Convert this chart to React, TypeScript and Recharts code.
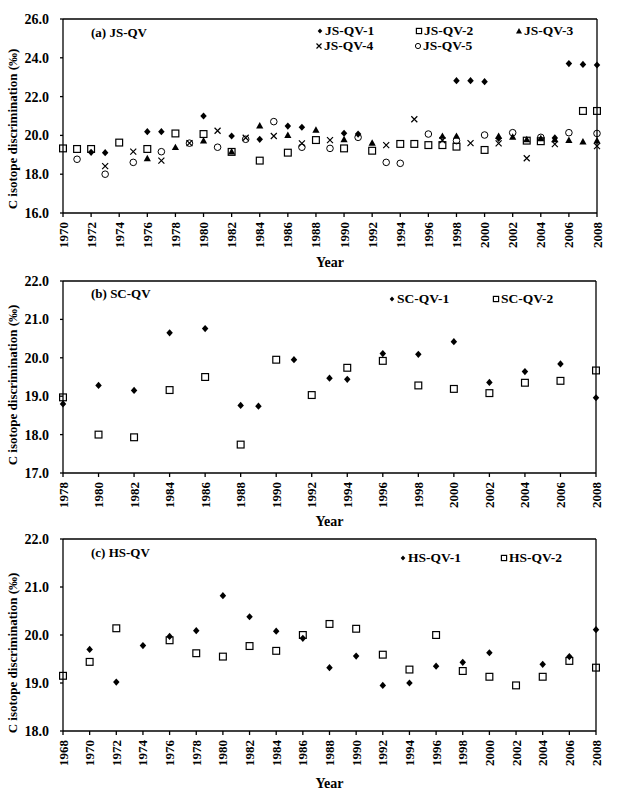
import { ScatterChart, Scatter, XAxis, YAxis, ReferenceLine } from "recharts";

const FONT = '"Liberation Serif", "Times New Roman", serif';

// (a) JS-QV
const js1Years = [1972, 1973, 1976, 1977, 1980, 1982, 1984, 1986, 1987, 1990, 1991, 1998, 1999, 2000, 2001, 2005, 2006, 2007, 2008];
const js1Values = [19.13, 19.11, 20.19, 20.19, 21.0, 19.97, 19.8, 20.48, 20.42, 20.11, 20.07, 22.82, 22.82, 22.77, 19.85, 19.87, 23.7, 23.66, 23.63];
const js2Years = [1970, 1971, 1972, 1974, 1976, 1978, 1980, 1982, 1984, 1986, 1988, 1990, 1992, 1994, 1995, 1996, 1997, 1998, 2000, 2003, 2004, 2007, 2008];
const js2Values = [19.33, 19.3, 19.3, 19.63, 19.3, 20.1, 20.07, 19.15, 18.7, 19.11, 19.76, 19.33, 19.21, 19.56, 19.56, 19.5, 19.5, 19.42, 19.25, 19.73, 19.7, 21.26, 21.26];
const js3Years = [1976, 1978, 1980, 1982, 1984, 1986, 1988, 1990, 1992, 1997, 1998, 2001, 2002, 2003, 2004, 2005, 2006, 2007, 2008];
const js3Values = [18.82, 19.39, 19.73, 19.16, 20.5, 20.02, 20.29, 19.8, 19.62, 19.97, 19.97, 19.97, 19.93, 19.8, 19.85, 19.8, 19.76, 19.68, 19.73];
const js4Years = [1973, 1975, 1977, 1979, 1981, 1983, 1985, 1987, 1989, 1993, 1995, 1997, 1999, 2001, 2003, 2005, 2008];
const js4Values = [18.42, 19.16, 18.7, 19.6, 20.24, 19.88, 19.97, 19.59, 19.76, 19.5, 20.83, 19.75, 19.6, 19.59, 18.82, 19.55, 19.45];
const js5Years = [1971, 1973, 1975, 1977, 1979, 1981, 1983, 1985, 1987, 1989, 1991, 1993, 1994, 1996, 1998, 2000, 2002, 2004, 2006, 2008];
const js5Values = [18.77, 18.0, 18.61, 19.16, 19.6, 19.39, 19.8, 20.71, 19.39, 19.33, 19.9, 18.61, 18.56, 20.07, 19.73, 20.02, 20.14, 19.9, 20.14, 20.1];

// (b) SC-QV
const sc1Years = [1978, 1980, 1982, 1984, 1986, 1988, 1989, 1991, 1993, 1994, 1996, 1998, 2000, 2002, 2004, 2006, 2008];
const sc1Values = [18.8, 19.28, 19.15, 20.65, 20.76, 18.76, 18.74, 19.95, 19.47, 19.44, 20.11, 20.09, 20.42, 19.36, 19.64, 19.84, 18.96];
const sc2Years = [1978, 1980, 1982, 1984, 1986, 1988, 1990, 1992, 1994, 1996, 1998, 2000, 2002, 2004, 2006, 2008];
const sc2Values = [18.97, 18.0, 17.93, 19.16, 19.5, 17.74, 19.95, 19.03, 19.74, 19.92, 19.28, 19.19, 19.08, 19.35, 19.4, 19.67];

// (c) HS-QV
const hs1Years = [1970, 1972, 1974, 1976, 1978, 1980, 1982, 1984, 1986, 1988, 1990, 1992, 1994, 1996, 1998, 2000, 2004, 2006, 2008];
const hs1Values = [19.7, 19.02, 19.78, 19.97, 20.09, 20.82, 20.38, 20.08, 19.93, 19.32, 19.56, 18.95, 19.0, 19.35, 19.43, 19.63, 19.39, 19.55, 20.11];
const hs2Years = [1968, 1970, 1972, 1976, 1978, 1980, 1982, 1984, 1986, 1988, 1990, 1992, 1994, 1996, 1998, 2000, 2002, 2004, 2006, 2008];
const hs2Values = [19.15, 19.44, 20.14, 19.89, 19.62, 19.55, 19.77, 19.67, 20.0, 20.23, 20.13, 19.59, 19.28, 20.0, 19.25, 19.13, 18.95, 19.13, 19.46, 19.32];

// tick labels
const jsYearTicks = [1970, 1972, 1974, 1976, 1978, 1980, 1982, 1984, 1986, 1988, 1990, 1992, 1994, 1996, 1998, 2000, 2002, 2004, 2006, 2008];
const scYearTicks = [1978, 1980, 1982, 1984, 1986, 1988, 1990, 1992, 1994, 1996, 1998, 2000, 2002, 2004, 2006, 2008];
const hsYearTicks = [1968, 1970, 1972, 1974, 1976, 1978, 1980, 1982, 1984, 1986, 1988, 1990, 1992, 1994, 1996, 1998, 2000, 2002, 2004, 2006, 2008];
const jsValueTicks = [16, 18, 20, 22, 24, 26];
const scValueTicks = [17, 18, 19, 20, 21, 22];
const hsValueTicks = [18, 19, 20, 21, 22];

type Kind = "diamond" | "square" | "triangle" | "cross" | "circle";

interface Pt {
  year: number;
  value: number;
}

const zip = (years: number[], values: number[]): Pt[] =>
  years.map((year, i) => ({ year, value: values[i] }));

function Marker({ kind, cx, cy, s }: { kind: Kind; cx: number; cy: number; s: number }) {
  switch (kind) {
    case "diamond":
      return (
        <path
          d={`M${cx},${cy - s} L${cx + s * 0.9},${cy} L${cx},${cy + s} L${cx - s * 0.9},${cy} Z`}
          fill="#000"
        />
      );
    case "square":
      return (
        <rect x={cx - s} y={cy - s} width={2 * s} height={2 * s} fill="none" stroke="#000" strokeWidth={1.2} />
      );
    case "triangle":
      return (
        <path d={`M${cx},${cy - s} L${cx + s},${cy + s * 0.8} L${cx - s},${cy + s * 0.8} Z`} fill="#000" />
      );
    case "cross":
      return (
        <path
          d={`M${cx - s},${cy - s} L${cx + s},${cy + s} M${cx + s},${cy - s} L${cx - s},${cy + s}`}
          stroke="#000"
          strokeWidth={1.2}
          fill="none"
        />
      );
    default:
      return <circle cx={cx} cy={cy} r={s} fill="none" stroke="#000" strokeWidth={1} />;
  }
}

const markSize: Record<Kind, number> = { diamond: 3.6, square: 3.4, triangle: 3.6, cross: 3, circle: 3.3 };
const legendSize: Record<Kind, number> = { diamond: 2.6, square: 2.6, triangle: 3, cross: 2.5, circle: 2.6 };

function YearTick(props: any) {
  const { x, y, payload } = props;
  return (
    <text
      x={x}
      y={y}
      transform={`rotate(-90, ${x}, ${y})`}
      textAnchor="end"
      dy="0.35em"
      fontFamily={FONT}
      fontWeight="bold"
      fontSize={13}
      fill="#000"
    >
      {payload.value}
    </text>
  );
}

interface SeriesDef {
  name: string;
  kind: Kind;
  data: Pt[];
  lx: number;
  ly: number;
}

interface PanelProps {
  top: number;
  height: number;
  bottom: number;
  right: number;
  title: string;
  titleY: number;
  xDomain: [number, number];
  xTicks: number[];
  yDomain: [number, number];
  yTicks: number[];
  series: SeriesDef[];
  yLabelDy: number;
  yearOffset: number;
}

function Panel(p: PanelProps) {
  return (
    <div style={{ position: "absolute", left: 0, top: p.top, width: 626, height: p.height }}>
      <ScatterChart width={626} height={p.height} margin={{ top: 19, right: p.right, bottom: p.bottom, left: 0 }}>
        <XAxis
          type="number"
          dataKey="year"
          domain={p.xDomain}
          ticks={p.xTicks}
          interval={0}
          height={40}
          tickSize={4}
          tickMargin={5}
          tick={<YearTick />}
          stroke="#000"
          strokeWidth={1.3}
          label={{
            value: "Year",
            position: "bottom",
            offset: p.yearOffset,
            style: { fontFamily: FONT, fontWeight: "bold", fontSize: 14, fill: "#000" },
          }}
        />
        <YAxis
          type="number"
          dataKey="value"
          domain={p.yDomain}
          ticks={p.yTicks}
          interval={0}
          width={63}
          tickSize={3}
          tickMargin={11}
          tickFormatter={(v: number) => v.toFixed(1)}
          tick={{ fontFamily: FONT, fontWeight: "bold", fontSize: 14, fill: "#000" }}
          stroke="#000"
          strokeWidth={1.3}
          label={{
            value: "C isotope discrimination (‰)",
            angle: -90,
            position: "insideLeft",
            offset: 12,
            dy: p.yLabelDy,
            style: { fontFamily: FONT, fontWeight: "bold", fontSize: 13, fill: "#000", textAnchor: "middle" },
          }}
        />
        <ReferenceLine y={p.yDomain[1]} stroke="#000" strokeWidth={1.3} />
        <ReferenceLine x={p.xDomain[1]} stroke="#000" strokeWidth={1.3} />
        {p.series.map((s) => (
          <Scatter
            key={s.name}
            name={s.name}
            data={s.data}
            isAnimationActive={false}
            shape={(sp: any) => <Marker kind={s.kind} cx={sp.cx} cy={sp.cy} s={markSize[s.kind]} />}
          />
        ))}
      </ScatterChart>
      <div
        style={{
          position: "absolute",
          left: 91,
          top: p.titleY - 8,
          lineHeight: "16px",
          fontFamily: FONT,
          fontWeight: "bold",
          fontSize: 13,
          color: "#000",
          whiteSpace: "nowrap",
        }}
      >
        {p.title}
      </div>
      {p.series.map((s) => (
        <div
          key={s.name}
          style={{
            position: "absolute",
            left: s.lx - 4,
            top: s.ly - 8,
            height: 16,
            display: "flex",
            alignItems: "center",
            fontFamily: FONT,
            fontWeight: "bold",
            fontSize: 13.5,
            color: "#000",
            whiteSpace: "nowrap",
          }}
        >
          <svg width={8} height={8} style={{ marginRight: 1 }}>
            <Marker kind={s.kind} cx={4} cy={4} s={legendSize[s.kind]} />
          </svg>
          {s.name}
        </div>
      ))}
    </div>
  );
}

export default function App() {
  const jsSeries: SeriesDef[] = [
    { name: "JS-QV-1", kind: "diamond", data: zip(js1Years, js1Values), lx: 320, ly: 31 },
    { name: "JS-QV-2", kind: "square", data: zip(js2Years, js2Values), lx: 419, ly: 31 },
    { name: "JS-QV-3", kind: "triangle", data: zip(js3Years, js3Values), lx: 519, ly: 31 },
    { name: "JS-QV-4", kind: "cross", data: zip(js4Years, js4Values), lx: 319, ly: 46 },
    { name: "JS-QV-5", kind: "circle", data: zip(js5Years, js5Values), lx: 418, ly: 46 },
  ];
  const scSeries: SeriesDef[] = [
    { name: "SC-QV-1", kind: "diamond", data: zip(sc1Years, sc1Values), lx: 392, ly: 299 - 262 },
    { name: "SC-QV-2", kind: "square", data: zip(sc2Years, sc2Values), lx: 496, ly: 299 - 262 },
  ];
  const hsSeries: SeriesDef[] = [
    { name: "HS-QV-1", kind: "diamond", data: zip(hs1Years, hs1Values), lx: 403, ly: 558 - 520 },
    { name: "HS-QV-2", kind: "square", data: zip(hs2Years, hs2Values), lx: 504, ly: 558 - 520 },
  ];

  return (
    <div style={{ position: "absolute", left: 0, top: 0, width: 626, height: 802, background: "#fff", fontFamily: FONT }}>
      <Panel
        top={0}
        height={270}
        bottom={17}
        right={29}
        title="(a) JS-QV"
        titleY={33}
        xDomain={[1970, 2008]}
        xTicks={jsYearTicks}
        yDomain={[16, 26]}
        yTicks={jsValueTicks}
        series={jsSeries}
        yLabelDy={13}
        yearOffset={4}
      />
      <Panel
        top={262}
        height={270}
        bottom={19}
        right={30}
        title="(b) SC-QV"
        titleY={294 - 262}
        xDomain={[1978, 2008]}
        xTicks={scYearTicks}
        yDomain={[17, 22]}
        yTicks={scValueTicks}
        series={scSeries}
        yLabelDy={8}
        yearOffset={3}
      />
      <Panel
        top={520}
        height={282}
        bottom={31}
        right={30}
        title="(c) HS-QV"
        titleY={553 - 520}
        xDomain={[1968, 2008]}
        xTicks={hsYearTicks}
        yDomain={[18, 22]}
        yTicks={hsValueTicks}
        series={hsSeries}
        yLabelDy={18}
        yearOffset={7}
      />
    </div>
  );
}
